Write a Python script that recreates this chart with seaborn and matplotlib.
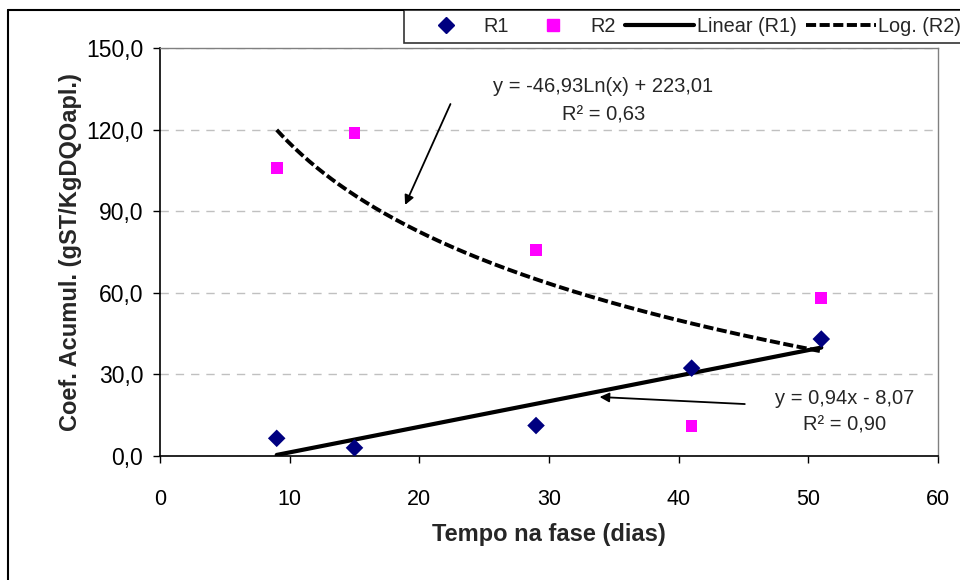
import numpy as np
import pandas as pd
import matplotlib
matplotlib.use("Agg")
import matplotlib.pyplot as plt
from matplotlib.lines import Line2D
from matplotlib.ticker import FuncFormatter, FixedLocator
import seaborn as sns

# Measured points
dias = [9, 15, 29, 41, 51]
r1 = [6.5, 3.0, 11.2, 32.3, 43.0]
r2 = [105.9, 118.7, 75.7, 11.0, 58.1]

# Trend line coefficients (linear for R1, logarithmic for R2)
lin_a, lin_b, lin_r2 = 0.94, -8.07, 0.90
log_a, log_b, log_r2 = -46.93, 223.01, 0.63

x_ticks = [0, 10, 20, 30, 40, 50, 60]
y_ticks = [0, 30, 60, 90, 120, 150]
series_names = ["R1", "R2", "Linear (R1)", "Log. (R2)"]

NAVY = "#000080"
MAGENTA = "#FF00FF"
LOG_DASH = (0, (2.6, 0.9))


def br(v, nd=2):
    return f"{v:.{nd}f}".replace(".", ",")


sns.set_theme(style="white")
plt.rcParams["font.family"] = ["Liberation Sans", "DejaVu Sans"]

fig = plt.figure(figsize=(9.6, 5.8), dpi=100)
ax = fig.add_axes([160 / 960, 1 - 456 / 580, (938 - 160) / 960, (456 - 48) / 580])

pts = pd.DataFrame({"dias": dias, "R1": r1, "R2": r2})
sns.scatterplot(data=pts, x="dias", y="R1", marker="D", s=80, color=NAVY,
                edgecolor="none", ax=ax, zorder=4, legend=False)
sns.scatterplot(data=pts, x="dias", y="R2", marker="s", s=70, color=MAGENTA,
                edgecolor="none", ax=ax, zorder=4, legend=False)

xs = np.linspace(min(dias), max(dias), 300)
trend = pd.DataFrame({"x": xs,
                      "lin": lin_a * xs + lin_b,
                      "log": log_a * np.log(xs) + log_b})
sns.lineplot(data=trend, x="x", y="lin", color="black", lw=3.0, ax=ax, zorder=3)
sns.lineplot(data=trend, x="x", y="log", color="black", lw=2.8, ls=LOG_DASH,
             ax=ax, zorder=3)

ax.set_xlim(0, 60)
ax.set_ylim(0, 150)
ax.xaxis.set_major_locator(FixedLocator(x_ticks))
ax.yaxis.set_major_locator(FixedLocator(y_ticks))
ax.yaxis.set_major_formatter(FuncFormatter(lambda v, p: br(v, 1)))
ax.xaxis.set_major_formatter(FuncFormatter(lambda v, p: f"{v:.0f}"))

ax.yaxis.grid(True, color="#c0c0c0", ls=(0, (6, 5)), lw=1)
ax.xaxis.grid(False)
ax.set_axisbelow(True)

for side in ("left", "bottom"):
    ax.spines[side].set_color("black")
    ax.spines[side].set_linewidth(1.2)
for side in ("top", "right"):
    ax.spines[side].set_color("#808080")
    ax.spines[side].set_linewidth(1.0)

ax.tick_params(axis="y", direction="out", length=5, width=1, pad=7,
               labelsize=16.5, colors="black", left=True)
ax.tick_params(axis="x", direction="out", length=5, width=1, pad=19,
               labelsize=15.5, colors="black", bottom=True)

ax.set_xlabel("Tempo na fase (dias)", fontsize=17, fontweight="bold", labelpad=9)
ax.set_ylabel("Coef. Acumul. (gST/KgDQOapl.)", fontsize=17, fontweight="bold",
              labelpad=3)

# Trend line equations
ax.text(34.2, 135.7, f"y = {br(log_a)}Ln(x) + {br(log_b)}", ha="center",
        va="center", fontsize=14.5)
ax.text(34.2, 125.4, f"R² = {br(log_r2)}", ha="center", va="center", fontsize=14.5)
ax.annotate("", xy=(18.9, 92.3), xytext=(22.4, 129.4),
            arrowprops=dict(arrowstyle="-|>", color="black", lw=1.3,
                            shrinkA=0, shrinkB=0, mutation_scale=14))

ax.text(52.8, 21.3, f"y = {br(lin_a)}x - {br(abs(lin_b))}", ha="center",
        va="center", fontsize=14.5)
ax.text(52.8, 11.4, f"R² = {br(lin_r2)}", ha="center", va="center", fontsize=14.5)
ax.annotate("", xy=(33.9, 21.7), xytext=(45.1, 19.1),
            arrowprops=dict(arrowstyle="-|>", color="black", lw=1.3,
                            shrinkA=0, shrinkB=0, mutation_scale=14))

# Legend across the top
handles = [
    Line2D([], [], marker="D", ls="none", color=NAVY, markersize=8),
    Line2D([], [], marker="s", ls="none", color=MAGENTA, markersize=8),
    Line2D([], [], color="black", lw=3.0),
    Line2D([], [], color="black", lw=2.8, ls=LOG_DASH),
]
leg = fig.legend(handles, series_names, ncol=4, loc="upper left",
                 bbox_to_anchor=(404 / 960, 1 - 10 / 580), frameon=True,
                 fancybox=False, edgecolor="black", fontsize=14.3,
                 borderaxespad=0, handlelength=3.5, handletextpad=0.15,
                 columnspacing=0.45, borderpad=0.35)
leg.get_frame().set_linewidth(1.2)

# Chart area border
fig.add_artist(Line2D([8 / 960, 8 / 960], [0, 1 - 10 / 580],
                      transform=fig.transFigure, color="black", lw=1.5))
fig.add_artist(Line2D([8 / 960, 1], [1 - 10 / 580, 1 - 10 / 580],
                      transform=fig.transFigure, color="black", lw=1.5))

fig.savefig("out.png", dpi=100, facecolor="white")
